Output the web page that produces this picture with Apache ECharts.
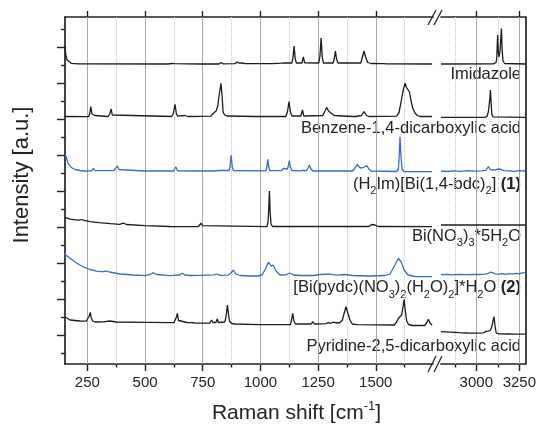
<!DOCTYPE html>
<html><head><meta charset="utf-8">
<script src="https://cdn.jsdelivr.net/npm/echarts@6/dist/echarts.min.js"></script>
<style>html,body{margin:0;padding:0;background:#fff}#c{width:539px;height:425px}</style>
</head><body><div id="c"></div>
<script>
// ---- axis ticks ----
const xMajorLeft = [250, 500, 750, 1000, 1250, 1500];
const xMinorLeft = [375, 625, 875, 1125, 1375, 1625];
const xMajorRight = [3000, 3250];
const xMinorRight = [2875, 3125];
const yMajor = [29, 65, 101, 137, 173, 209, 245, 281, 317];
const yMinor = [11, 47, 83, 119, 155, 191, 227, 263, 299, 335];
const leftRange = [153, 1748];
const rightRange = [2795, 3285];
const yRange = [0, 347];

// ---- spectra (wavenumber, stacked intensity a.u.) ----
const imidazoleLeft = [[153,318],[155,312],[158,307],[162,304],[168,302],[180,300.7],[210,300.2],[600,300],[615,300.5],[621,301.2],[627,300.3],[740,300],[746,301],[752,300],[820,300],[829,301.5],[838,300.2],[890,300.3],[899,302],[908,300.8],[918,301],[925,301.8],[935,300.3],[1055,300.3],[1063,301.5],[1072,300.6],[1090,300.8],[1097,302],[1104,301],[1136,301],[1141,306],[1146,318],[1151,305],[1156,301],[1180,301],[1186,307],[1192,301.2],[1253,301],[1258,308],[1263,326],[1268,307],[1273,301],[1315,301],[1320,305],[1325,313],[1330,305],[1336,301],[1435,301],[1442,307],[1449,313],[1456,307],[1465,301.5],[1480,300.5],[1535,300.3],[1540,301],[1546,300.2],[1744,300]];
const imidazoleRight = [[2795,300],[3100,300.2],[3115,301.5],[3119,306],[3124,329],[3128,312],[3132,307],[3138,313],[3146,335.5],[3150,315],[3155,303],[3165,300.5],[3285,300]];

const bdcLeft = [[153,247.5],[240,247.3],[255,247.5],[260,250],[265,257.3],[270,250],[275,249],[283,248.5],[290,247.5],[340,247.5],[347,250],[353,255],[358,249],[365,247.5],[615,247.5],[622,250],[630,259.7],[636,250],[642,247.8],[673,248.5],[685,247.5],[785,247.8],[795,250.5],[800,252],[808,253],[815,258],[822,270],[829,280.7],[834,268],[838,252],[845,249],[855,248],[975,247.5],[981,248.3],[987,247.5],[1110,247.5],[1117,252],[1124,262.3],[1130,252],[1137,248],[1175,248],[1182,254],[1188,248],[1270,248.5],[1280,253],[1287,256.6],[1295,253],[1306,251],[1313,251],[1320,248.5],[1400,247.5],[1407,248.5],[1414,247.5],[1438,248.5],[1449,252.3],[1460,248.5],[1470,247.5],[1590,247.8],[1600,251],[1608,260],[1614,268],[1620,275],[1627,280.7],[1633,276.5],[1640,277],[1646,272],[1652,264],[1660,256],[1670,251],[1680,248.5],[1692,247.5],[1744,247.5]];
const bdcRight = [[2795,246.7],[3050,246.7],[3062,247.5],[3070,252],[3074,258],[3078,264],[3082,274],[3086,262],[3090,250],[3097,247.2],[3285,246.7]];

const compound1Left = [[153,209.7],[158,207],[162,204],[166,201],[175,198],[184,196],[197,194.5],[218,193.5],[240,193],[268,193.2],[276,195.7],[284,193.3],[365,193.3],[373,195],[380,198],[387,194.5],[395,193.2],[495,193],[503,195],[511,193],[624,193],[633,197.3],[641,193.2],[712,193],[720,195],[728,193],[805,193],[811,194.5],[818,193.5],[828,193.5],[835,195],[842,193.5],[864,193.5],[868,197],[873,209],[878,197],[883,193.5],[1024,193.2],[1028,197],[1032,204.7],[1036,197],[1041,193.3],[1092,193.3],[1099,195.7],[1106,194],[1117,195],[1121,198],[1125,203.3],[1130,197],[1136,193.5],[1170,193.2],[1176,195],[1182,193.5],[1200,193.5],[1206,196],[1212,199],[1219,195],[1228,193],[1400,193],[1410,196],[1420,199.7],[1430,196.5],[1440,196],[1450,197],[1461,198.3],[1470,195],[1480,193],[1590,192.5],[1598,195],[1602,210],[1605,227.3],[1609,208],[1614,195],[1622,192.5],[1744,192.3]];
const compound1Right = [[2795,193],[2830,192.5],[2870,193.2],[2910,192.7],[2950,193.3],[2990,192.8],[3030,193.2],[3055,193.6],[3064,195],[3071,197.5],[3078,195],[3090,194],[3100,193.8],[3110,194.2],[3120,194.8],[3127,195],[3135,194],[3146,194.5],[3160,193.4],[3190,193.2],[3220,192.6],[3250,193.3],[3285,193]];

const nitrateLeft = [[153,146.7],[160,145.5],[175,144.8],[200,144.2],[215,143.8],[225,144.5],[235,143.6],[262,142.3],[300,141.3],[350,140.3],[390,139.7],[405,140.8],[420,139.5],[500,138.3],[608,137.5],[730,137.3],[737,138.5],[743,140.7],[749,138.3],[756,137.3],[1028,137.3],[1033,142],[1036,155],[1039,173],[1042,152],[1046,140],[1052,137.5],[1470,137.5],[1482,139.5],[1489,140.7],[1497,139],[1510,137.5],[1744,137.3]];
const nitrateRight = [[2795,139],[3285,139]];

const compound2Left = [[153,111.3],[156,109],[160,107],[175,105.7],[197,102],[218,99],[240,96.3],[262,94.5],[290,92.8],[305,92.3],[320,92.4],[333,93],[345,92],[392,90],[450,89],[500,88.3],[520,89.5],[536,91.3],[550,89.5],[608,88.3],[650,89],[662,90.7],[672,89],[695,88.5],[738,88.7],[800,89.2],[812,90],[825,88.7],[860,88.8],[872,91],[883,94],[893,90],[912,88.5],[955,88],[990,88],[1007,89],[1024,96],[1035,102],[1046,98],[1055,99],[1068,93],[1085,89],[1110,89.2],[1128,91],[1145,89],[1172,88.5],[1230,88.5],[1260,89.5],[1300,89.8],[1330,88.8],[1367,89.5],[1400,88.5],[1475,88],[1540,88.5],[1562,90],[1583,99],[1598,105.7],[1610,102],[1623,94],[1640,89],[1670,87.5],[1744,87.3]];
const compound2Right = [[2795,89.3],[2830,89.6],[2860,89.2],[2900,89.5],[2940,89.3],[2980,89.6],[3020,89.5],[3050,89.8],[3070,90.7],[3082,91.8],[3090,92.3],[3098,91.2],[3110,90.2],[3130,89.8],[3150,90.3],[3170,89.6],[3190,90.4],[3210,89.8],[3230,90.6],[3250,90.2],[3265,91.2],[3275,90.5],[3285,91.3]];

const pydcLeft = [[153,47.3],[158,45.5],[175,44],[218,43],[245,42.8],[253,44],[258,48],[262,51.7],[267,46],[273,43],[283,42],[320,42.2],[348,43],[375,42],[500,41.7],[625,41.3],[632,43],[636,47],[640,50.7],[645,43.5],[652,41.5],[683,41.5],[688,42.5],[694,41.3],[704,41.3],[709,42],[715,41],[780,40.8],[785,42],[789,44],[794,41.5],[807,41.5],[813,45],[818,41.5],[845,42],[850,46],[854,53],[857,59],[861,51],[866,43],[875,40.5],[890,40],[1000,39.3],[1130,39.5],[1135,44],[1140,50.7],[1145,43],[1152,40],[1170,40.2],[1175,41.2],[1181,40],[1220,40],[1227,42.3],[1234,40],[1285,40.3],[1294,41.3],[1303,40.5],[1316,41.8],[1330,41],[1345,41.5],[1355,44],[1362,50],[1371,57.3],[1380,50],[1388,44],[1398,40],[1420,39.3],[1580,39],[1590,42],[1598,45.7],[1606,45],[1612,49],[1618,57],[1623,64.7],[1628,53],[1634,43],[1642,39.5],[1660,38.5],[1712,38.5],[1720,41],[1728,44.7],[1735,41],[1744,38.8]];
const pydcRight = [[2795,32.3],[2850,31.8],[2900,31.3],[2950,31],[3000,30.8],[3040,31.2],[3055,32.5],[3061,33],[3068,32.8],[3074,34.8],[3080,33.5],[3088,36],[3096,42],[3103,47.3],[3109,38],[3116,31],[3130,30.2],[3200,30],[3285,29.8]];

// ---- labels ----
const spectrumLabels = [
  '{m|Imidazole}',
  '{m|Benzene-1,4-dicarboxylic acid}',
  '{m|(H}{s|2}{m|Im)[Bi(1,4-bdc)}{s|2}{m|] }{b|(1)}',
  '{m|Bi(NO}{s|3}{m|)}{s|3}{m|*5H}{s|2}{m|O}',
  '{m|[Bi(pydc)(NO}{s|3}{m|)}{s|2}{m|(H}{s|2}{m|O)}{s|2}{m|]*H}{s|2}{m|O }{b|(2)}',
  '{m|Pyridine-2,5-dicarboxylic acid}'
];
const labelBaselines = [80, 134, 190, 241.7, 293.3, 351.7];
const xTitle = '{m|Raman shift [cm}{s|-1}{m|]}';
const yTitle = 'Intensity [a.u.]';

const FONT = '"Liberation Sans", Arial, Helvetica, sans-serif';
const INK = '#222';
const BLACK = '#1c1c1c';
const BLUE = '#3a6cc6';

function lineSeries(data, right, color) {
  return {
    type: 'line', data, xAxisIndex: right ? 3 : 0, yAxisIndex: right ? 2 : 0,
    symbol: 'none', showSymbol: false, silent: true, animation: false,
    lineStyle: { color, width: 1.3 }, emphasis: { disabled: true }
  };
}
function gridSeries(xi, yi, majors, minors) {
  return {
    type: 'line', data: [], xAxisIndex: xi, yAxisIndex: yi, silent: true,
    markLine: {
      silent: true, animation: false, z: 1, symbol: ['none', 'none'],
      label: { show: false }, emphasis: { disabled: true },
      data: majors.map(v => ({ xAxis: v, lineStyle: { color: '#a8a8a8', width: 1, type: 'solid' } }))
        .concat(minors.map(v => ({ xAxis: v, lineStyle: { color: '#c4c4c4', width: 1, type: 'dotted' } })))
    }
  };
}
function xAx(grid, range, pos, ticks, len, opts) {
  return Object.assign({
    gridIndex: grid, type: 'value', position: pos, min: range[0], max: range[1],
    axisLine: { show: false, onZero: false },
    axisTick: { show: true, customValues: ticks, length: len, inside: false, lineStyle: { color: INK, width: 1.4 } },
    axisLabel: { show: false },
    splitLine: { show: false }
  }, opts || {});
}

const axisLineStyle = { show: true, onZero: false, lineStyle: { color: INK, width: 1.7 } };
const tickLabel = (vals) => ({ show: true, customValues: vals, fontSize: 15, color: INK, margin: 11,
  fontFamily: FONT, formatter: v => String(v) });

const mainTok = { fontSize: 16.5, height: 20, lineHeight: 20, verticalAlign: 'top', fontFamily: FONT, fill: INK };

const chart = echarts.init(document.getElementById('c'), null, { renderer: 'canvas' });
chart.setOption({
  animation: false,
  backgroundColor: '#fff',
  grid: [
    { left: 65, top: 17, width: 368, height: 347 },
    { left: 441, top: 17, width: 87, height: 347 }
  ],
  xAxis: [
    xAx(0, leftRange, 'bottom', xMajorLeft, 7, { axisLine: axisLineStyle, axisLabel: tickLabel(xMajorLeft) }),
    xAx(0, leftRange, 'bottom', xMinorLeft, 3.5),
    xAx(0, leftRange, 'top', xMajorLeft, 6, { axisLine: axisLineStyle }),
    xAx(1, rightRange, 'bottom', xMajorRight, 7, { axisLine: axisLineStyle, axisLabel: tickLabel(xMajorRight) }),
    xAx(1, rightRange, 'bottom', xMinorRight, 3.5),
    xAx(1, rightRange, 'top', xMajorRight, 6, { axisLine: axisLineStyle })
  ],
  yAxis: [
    { gridIndex: 0, type: 'value', position: 'left', min: yRange[0], max: yRange[1],
      axisLine: axisLineStyle,
      axisTick: { show: true, customValues: yMajor, length: 8, lineStyle: { color: INK, width: 1.4 } },
      axisLabel: { show: false }, splitLine: { show: false } },
    { gridIndex: 0, type: 'value', position: 'left', min: yRange[0], max: yRange[1],
      axisLine: { show: false },
      axisTick: { show: true, customValues: yMinor, length: 4, lineStyle: { color: INK, width: 1.4 } },
      axisLabel: { show: false }, splitLine: { show: false } },
    { gridIndex: 1, type: 'value', position: 'right', min: yRange[0], max: yRange[1],
      axisLine: axisLineStyle, axisTick: { show: false },
      axisLabel: { show: false }, splitLine: { show: false } }
  ],
  series: [
    gridSeries(0, 0, xMajorLeft, xMinorLeft),
    gridSeries(3, 2, xMajorRight, xMinorRight),
    lineSeries(imidazoleLeft, false, BLACK), lineSeries(imidazoleRight, true, BLACK),
    lineSeries(bdcLeft, false, BLACK), lineSeries(bdcRight, true, BLACK),
    lineSeries(compound1Left, false, BLUE), lineSeries(compound1Right, true, BLUE),
    lineSeries(nitrateLeft, false, BLACK), lineSeries(nitrateRight, true, BLACK),
    lineSeries(compound2Left, false, BLUE), lineSeries(compound2Right, true, BLUE),
    lineSeries(pydcLeft, false, BLACK), lineSeries(pydcRight, true, BLACK)
  ],
  graphic: [
    // axis break marks
    { type: 'line', shape: { x1: 428, y1: 25, x2: 436, y2: 10 }, style: { stroke: INK, lineWidth: 1.3 } },
    { type: 'line', shape: { x1: 434, y1: 25, x2: 442, y2: 10 }, style: { stroke: INK, lineWidth: 1.3 } },
    { type: 'line', shape: { x1: 428, y1: 372, x2: 436, y2: 356 }, style: { stroke: INK, lineWidth: 1.3 } },
    { type: 'line', shape: { x1: 434, y1: 372, x2: 442, y2: 356 }, style: { stroke: INK, lineWidth: 1.3 } },
    // axis titles
    { type: 'text', x: 21.5, y: 175, rotation: Math.PI / 2,
      style: { text: yTitle, fontSize: 22, fontFamily: FONT, fill: INK, align: 'center', verticalAlign: 'middle' } },
    { type: 'text', x: 296.5, y: 400.6,
      style: { text: xTitle, align: 'center', verticalAlign: 'top',
        rich: {
          m: { fontSize: 21, height: 26, lineHeight: 26, verticalAlign: 'top', fontFamily: FONT, fill: INK },
          s: { fontSize: 13, height: 11, lineHeight: 11, verticalAlign: 'top', fontFamily: FONT, fill: INK }
        } } }
  ].concat(spectrumLabels.map((t, i) => ({
    type: 'text', x: 521, y: labelBaselines[i] - 15.6,
    style: { text: t, align: 'right', verticalAlign: 'top',
      rich: {
        m: mainTok,
        b: Object.assign({}, mainTok, { fontWeight: 'bold' }),
        s: { fontSize: 11, height: 11, lineHeight: 22.5, verticalAlign: 'bottom', fontFamily: FONT, fill: INK }
      } }
  })))
});
</script></body></html>
